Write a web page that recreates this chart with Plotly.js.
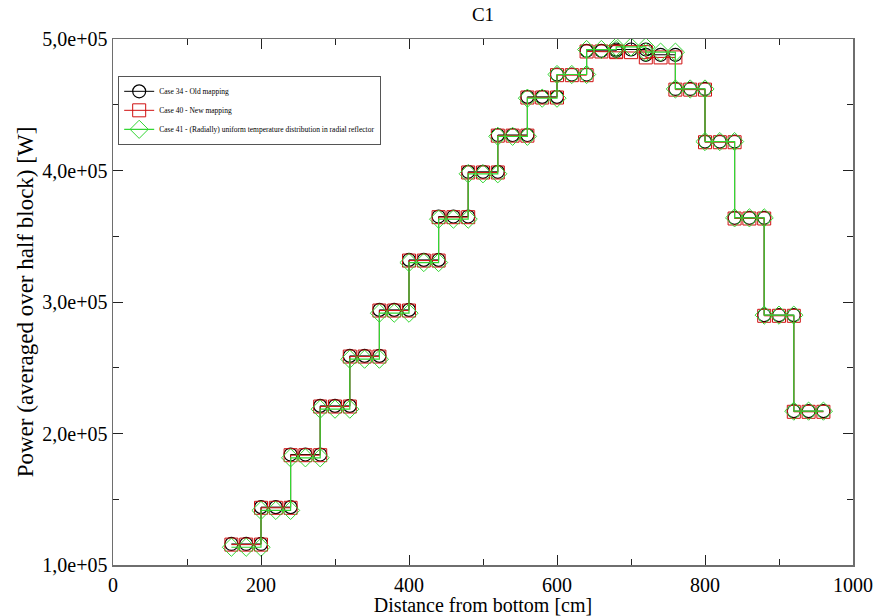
<!DOCTYPE html>
<html>
<head>
<meta charset="utf-8">
<script src="https://cdn.plot.ly/plotly-3.0.1.min.js"></script>
<style>html,body{margin:0;padding:0;background:#fff;}#chart{width:886px;height:616px;}</style>
</head>
<body>
<div id="chart"></div>
<script>
// x positions (cm): three points per half block
const xPos = [160,180,200, 200,220,240, 240,260,280, 280,300,320, 320,340,360,
              360,380,400, 400,420,440, 440,460,480, 480,500,520, 520,540,560,
              560,580,600, 600,620,640, 640,660,680, 680,700,720, 720,740,760,
              760,780,800, 800,820,840, 840,860,880, 880,900,920, 920,940,960];

// Case 34 - Old mapping (W)
const case34 = [1.16e5,1.16e5,1.16e5, 1.44e5,1.44e5,1.44e5, 1.84e5,1.84e5,1.84e5, 2.21e5,2.21e5,2.21e5,
                2.59e5,2.59e5,2.59e5, 2.94e5,2.94e5,2.94e5, 3.32e5,3.32e5,3.32e5, 3.65e5,3.65e5,3.65e5,
                3.99e5,3.99e5,3.99e5, 4.27e5,4.27e5,4.27e5, 4.56e5,4.56e5,4.56e5, 4.73e5,4.73e5,4.73e5,
                4.91e5,4.91e5,4.91e5, 4.92e5,4.92e5,4.92e5, 4.88e5,4.88e5,4.88e5, 4.62e5,4.62e5,4.62e5,
                4.22e5,4.22e5,4.22e5, 3.64e5,3.64e5,3.64e5, 2.90e5,2.90e5,2.90e5, 2.17e5,2.17e5,2.17e5];

// Case 40 - New mapping (W)
const case40 = [1.155e5,1.155e5,1.155e5, 1.435e5,1.435e5,1.435e5, 1.835e5,1.835e5,1.835e5, 2.205e5,2.205e5,2.205e5,
                2.585e5,2.585e5,2.585e5, 2.935e5,2.935e5,2.935e5, 3.315e5,3.315e5,3.315e5, 3.645e5,3.645e5,3.645e5,
                3.985e5,3.985e5,3.985e5, 4.265e5,4.265e5,4.265e5, 4.555e5,4.555e5,4.555e5, 4.725e5,4.725e5,4.725e5,
                4.905e5,4.905e5,4.905e5, 4.90e5,4.90e5,4.90e5, 4.86e5,4.86e5,4.86e5, 4.615e5,4.615e5,4.615e5,
                4.215e5,4.215e5,4.215e5, 3.635e5,3.635e5,3.635e5, 2.895e5,2.895e5,2.895e5, 2.165e5,2.165e5,2.165e5];

// Case 41 - (Radially) uniform temperature distribution in radial reflector (W)
const case41 = [1.135e5,1.135e5,1.135e5, 1.415e5,1.415e5,1.415e5, 1.815e5,1.815e5,1.815e5, 2.185e5,2.185e5,2.185e5,
                2.565e5,2.565e5,2.565e5, 2.915e5,2.915e5,2.915e5, 3.30e5,3.30e5,3.30e5, 3.63e5,3.63e5,3.63e5,
                3.975e5,3.975e5,3.975e5, 4.26e5,4.26e5,4.26e5, 4.55e5,4.55e5,4.55e5, 4.73e5,4.73e5,4.73e5,
                4.92e5,4.92e5,4.92e5, 4.94e5,4.94e5,4.94e5, 4.90e5,4.90e5,4.90e5, 4.62e5,4.62e5,4.62e5,
                4.22e5,4.22e5,4.22e5, 3.64e5,3.64e5,3.64e5, 2.90e5,2.90e5,2.90e5, 2.17e5,2.17e5,2.17e5];

const seriesNames = ['Case 34 - Old mapping', 'Case 40 - New mapping',
                     'Case 41 - (Radially) uniform temperature distribution in radial reflector'];

const yTickVals = [1e5, 2e5, 3e5, 4e5, 5e5];
const yTickText = ['1,0e+05', '2,0e+05', '3,0e+05', '4,0e+05', '5,0e+05'];
const xTickVals = [0, 200, 400, 600, 800, 1000];
const xTickText = ['0', '200', '400', '600', '800', '1000'];

const serif = '"Liberation Serif", "Times New Roman", serif';

const traces = [
  {x: xPos, y: case34, name: seriesNames[0], type: 'scatter', mode: 'lines+markers',
   line: {color: '#000000', width: 1},
   marker: {symbol: 'circle-open', size: 13, color: '#000000', line: {width: 1.2, color: '#000000'}}},
  {x: xPos, y: case40, name: seriesNames[1], type: 'scatter', mode: 'lines+markers',
   line: {color: '#d01010', width: 1},
   marker: {symbol: 'square-open', size: 13, color: '#d01010', line: {width: 1, color: '#d01010'}}},
  {x: xPos, y: case41, name: seriesNames[2], type: 'scatter', mode: 'lines+markers',
   line: {color: '#33d633', width: 1.2},
   marker: {symbol: 'diamond-open', size: 14, color: '#33d633', line: {width: 1, color: '#33d633'}}}
];

const axisCommon = {
  showline: true, linecolor: '#6e6e6e', linewidth: 1.5, mirror: 'allticks',
  ticks: 'inside', ticklen: 10, tickwidth: 1, tickcolor: '#222',
  showgrid: false, zeroline: false,
  tickfont: {family: serif, size: 20, color: '#000'}
};

const layout = {
  width: 886, height: 616,
  paper_bgcolor: '#fff', plot_bgcolor: '#fff',
  margin: {l: 113, r: 33, t: 39, b: 51},
  font: {family: serif, color: '#000'},
  title: {text: 'C1', font: {family: serif, size: 19, color: '#000'}, xref: 'paper', x: 0.5, xanchor: 'center', y: 0.976, yanchor: 'middle'},
  xaxis: Object.assign({}, axisCommon, {
    range: [0, 1000], tickmode: 'array', tickvals: xTickVals, ticktext: xTickText,
    ticklabelstandoff: 1,
    minor: {ticks: 'inside', ticklen: 6, dtick: 100, tickcolor: '#222', showgrid: false},
    title: {text: 'Distance from bottom [cm]', font: {family: serif, size: 20, color: '#000'}, standoff: 0}
  }),
  yaxis: Object.assign({}, axisCommon, {
    range: [1e5, 5e5], tickmode: 'array', tickvals: yTickVals, ticktext: yTickText,
    minor: {ticks: 'inside', ticklen: 6, dtick: 5e4, tickcolor: '#222', showgrid: false},
    title: {text: 'Power (averaged over half block) [W]', font: {family: serif, size: 23, color: '#000'}, standoff: 2}
  }),
  showlegend: true,
  legend: {
    x: 0.007, y: 0.93, xanchor: 'left', yanchor: 'top',
    bgcolor: '#fff', bordercolor: '#555', borderwidth: 1,
    font: {family: serif, size: 7.5, color: '#000'},
    itemwidth: 30, tracegroupgap: 0
  }
};

Plotly.newPlot('chart', traces, layout, {displayModeBar: false, staticPlot: true});
</script>
</body>
</html>
